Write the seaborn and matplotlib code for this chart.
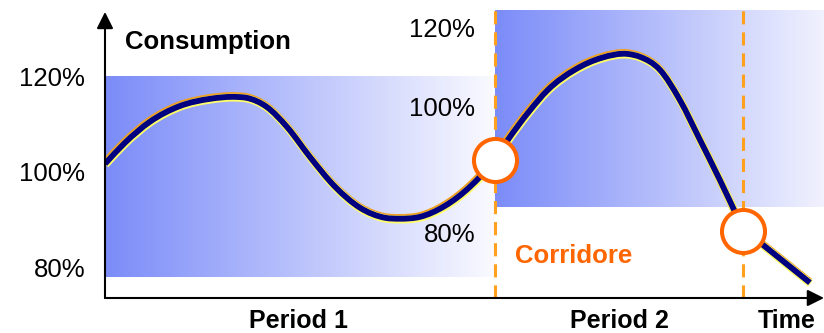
import numpy as np
import matplotlib
matplotlib.use("Agg")
import matplotlib.pyplot as plt
import matplotlib.patheffects as pe
from matplotlib.colors import LinearSegmentedColormap
from matplotlib.path import Path
from matplotlib.patches import PathPatch
import seaborn as sns

# consumption curve (time units, % of reference)
time = [0.00, 0.51, 1.15, 1.92, 2.69, 3.38, 3.64, 4.15, 4.67, 5.26, 5.90,
        6.54, 7.18, 7.56, 8.08, 8.72, 9.36, 10.00, 10.33, 10.85, 11.36, 12.05,
        12.74, 13.41, 13.72, 14.23, 14.74, 15.26, 15.77, 16.36, 18.08]
consumption = [101.7, 106.1, 110.5, 113.8, 115.3, 115.7, 115.5, 113.6, 109.4, 103.1, 96.9,
               92.5, 90.4, 90.2, 90.6, 92.9, 96.9, 102.7, 106.7, 112.4, 117.2, 121.4,
               123.9, 124.7, 124.1, 121.4, 115.1, 106.7, 98.3, 88.1, 76.8]

# corridor breaches
breach_time = [10.00, 16.36]
breach_value = [102.5, 87.6]

# period boundaries
period_edges = [0.0, 10.0, 16.36]
x_max = 18.44
y_min, y_max = 73.6, 136.0

# corridor bands: (x0, x1, y_low, y_high)
band1 = (0.0, 10.0, 78.0, 120.0)
band2 = (10.0, x_max, 92.7, 133.9)

left_ticks = [120, 100, 80]
left_labels = ["120%", "100%", "80%"]
right_ticks = [130.2, 113.6, 87.2]
right_labels = ["120%", "100%", "80%"]

period_labels = ["Period 1", "Period 2", "Time"]
period_label_x = [4.97, 13.2, 17.49]


def smooth_path(xs, ys, n_smooth):
    # cubic Hermite (as Beziers) through the first n_smooth points, straight after
    x = np.asarray(xs, float)
    y = np.asarray(ys, float)
    xs_, ys_ = x[:n_smooth], y[:n_smooth]
    h = np.diff(xs_)
    d = np.diff(ys_) / h
    m = np.empty(n_smooth)
    m[0], m[-1] = d[0], d[-1]
    m[1:-1] = (d[:-1] * h[1:] + d[1:] * h[:-1]) / (h[:-1] + h[1:])
    verts = [(xs_[0], ys_[0])]
    codes = [Path.MOVETO]
    for i in range(n_smooth - 1):
        verts += [(xs_[i] + h[i] / 3, ys_[i] + m[i] * h[i] / 3),
                  (xs_[i + 1] - h[i] / 3, ys_[i + 1] - m[i + 1] * h[i] / 3),
                  (xs_[i + 1], ys_[i + 1])]
        codes += [Path.CURVE4] * 3
    for px, py in zip(x[n_smooth:], y[n_smooth:]):
        verts.append((px, py))
        codes.append(Path.LINETO)
    return Path(verts, codes)


sns.set_theme(style="white")
plt.rcParams['font.family'] = ['Liberation Sans', 'DejaVu Sans']
plt.rcParams['text.color'] = 'black'

fig = plt.figure(figsize=(8.24, 3.33), dpi=100)
ax = fig.add_axes([105 / 824, 35 / 333, 719 / 824, 298 / 333])
ax.set_xlim(0, x_max)
ax.set_ylim(y_min, y_max)
ax.axis("off")

# gradient bands
grad = np.linspace(0, 1, 256).reshape(1, -1)
cmap1 = LinearSegmentedColormap.from_list("b1", ["#7b8cf8", "#fafaff"])
cmap2 = LinearSegmentedColormap.from_list("b2", ["#7b8cf8", "#f1f2fe"])
for band, cm in [(band1, cmap1), (band2, cmap2)]:
    x0, x1, y0, y1 = band
    ax.imshow(grad, extent=[x0, x1, y0, y1], cmap=cm, aspect="auto",
              interpolation="bilinear", zorder=1)

# dashed period dividers
ax.vlines(period_edges[1:], y_min, band2[3], colors="#ffa01e", lw=2.2,
          linestyles=(0, (4.3, 2.6)), zorder=2)

# curve with yellow/orange rim
rim = [pe.Stroke(linewidth=5.6, foreground="#f0a020", offset=(-0.3, 0.6)),
       pe.Stroke(linewidth=5.6, foreground="#ffff66", offset=(0.3, -0.6)),
       pe.Normal()]
curve = PathPatch(smooth_path(time, consumption, len(time) - 1), fill=False,
                  edgecolor="#000080", lw=4.2, joinstyle="round", capstyle="butt",
                  zorder=3, path_effects=rim)
ax.add_patch(curve)

# breach markers
sns.scatterplot(x=breach_time, y=breach_value, s=960, color="white",
                edgecolor="#ff6600", linewidth=2.9, ax=ax, zorder=4, legend=False)

# axes arrows
arrow = dict(arrowstyle="-|>,head_length=0.5,head_width=0.25", color="black",
             lw=1.5, shrinkA=0, shrinkB=0, mutation_scale=20)
ax.annotate("", xy=(0, 133.5), xytext=(0, y_min), arrowprops=arrow,
            annotation_clip=False, zorder=5)
ax.annotate("", xy=(x_max, y_min), xytext=(0, y_min), arrowprops=arrow,
            annotation_clip=False, zorder=5)

fs = 18.5
for v, lab in zip(left_ticks, left_labels):
    ax.annotate(lab, xy=(-0.51, v), xytext=(0, -6.6), textcoords="offset points",
                ha="right", va="baseline", fontsize=fs, annotation_clip=False)
for v, lab in zip(right_ticks, right_labels):
    ax.annotate(lab, xy=(9.49, v), xytext=(0, -6.6), textcoords="offset points",
                ha="right", va="baseline", fontsize=fs, annotation_clip=False, zorder=6)

ax.text(0.51, 125.65, "Consumption", fontsize=fs, fontweight="bold",
        ha="left", va="baseline")
ax.text(10.51, 80.94, "Corridore", fontsize=fs, fontweight="bold",
        color="#ff6600", ha="left", va="baseline")
for x, lab in zip(period_label_x, period_labels):
    ax.text(x, 67.4, lab, fontsize=18, fontweight="bold", ha="center",
            va="baseline", clip_on=False)

fig.savefig("out.png", dpi=100)
